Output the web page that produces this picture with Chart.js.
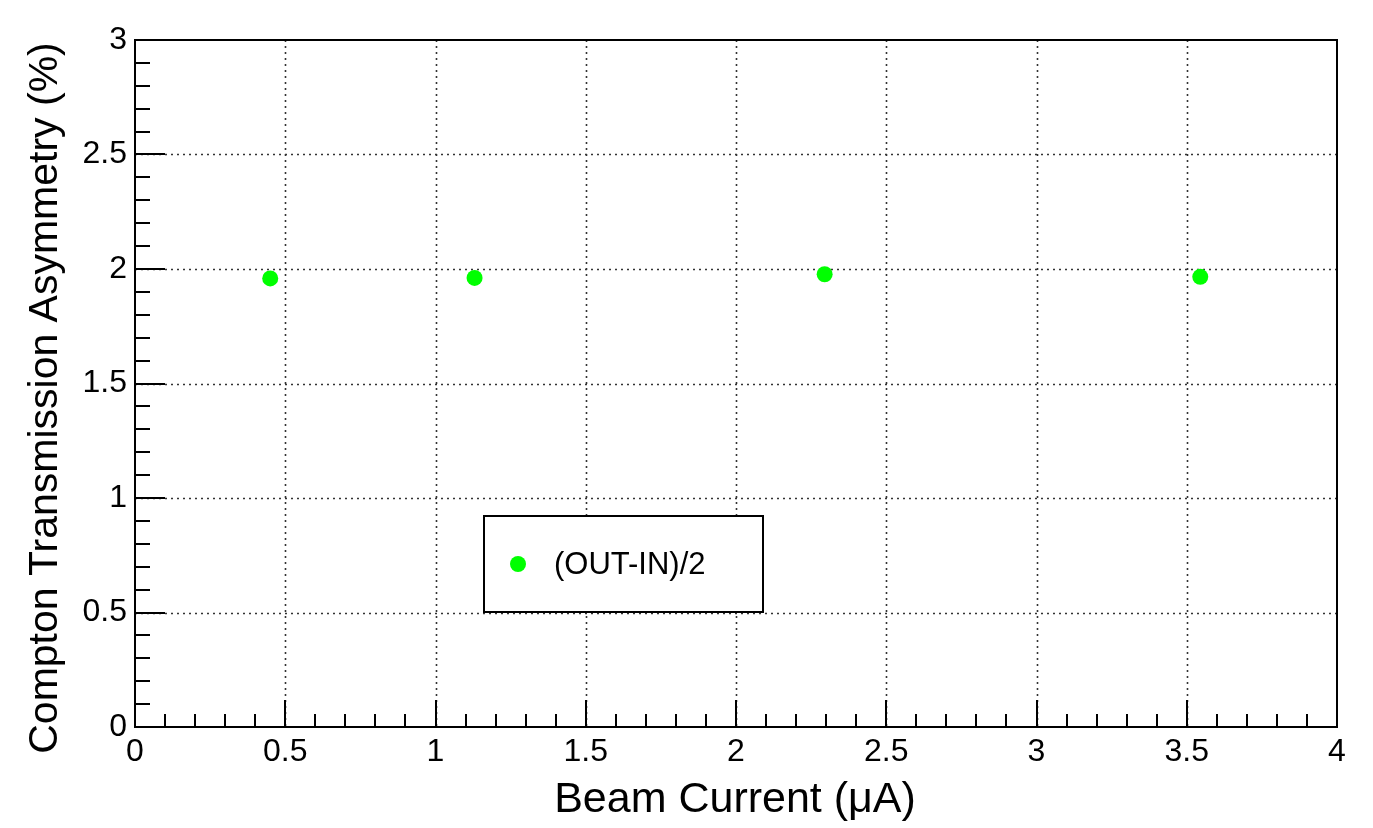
<!DOCTYPE html>
<html>
<head>
<meta charset="utf-8">
<script src="https://cdn.jsdelivr.net/npm/chart.js@4/dist/chart.umd.min.js"></script>
<style>
  html, body { margin: 0; padding: 0; background: #fff; }
  #wrap { width: 1373px; height: 828px; }
</style>
</head>
<body>
<div id="wrap"><canvas id="comptonAsym"></canvas></div>
<script>
// beam current (uA) and asymmetry (%)
const beamCurrent = [0.45, 1.13, 2.295, 3.545];
const asymmetry = [1.959, 1.961, 1.977, 1.966];
const seriesLabel = '(OUT-IN)/2';
const xTitle = 'Beam Current (\u03bcA)';
const yTitle = 'Compton Transmission Asymmetry (%)';

const FONT = "'Liberation Sans', Arial, Helvetica, sans-serif";
const GREEN = '#00ff00';

// ROOT style frame: dotted grid at majors, inward major/minor ticks
const rootFrame = {
    id: 'rootFrame',
    beforeDatasetsDraw(chart) {
        const ctx = chart.ctx;
        const area = chart.chartArea;
        const xs = chart.scales.x;
        const ys = chart.scales.y;
        ctx.save();

        // grid
        ctx.strokeStyle = '#333';
        ctx.lineWidth = 1.6;
        ctx.setLineDash([2, 4]);
        for (let v = 0.5; v < 4; v += 0.5) {
            const px = Math.round(xs.getPixelForValue(v)) + 0.5;
            ctx.beginPath();
            ctx.moveTo(px, area.top);
            ctx.lineTo(px, area.bottom);
            ctx.stroke();
        }
        for (let v = 0.5; v < 3; v += 0.5) {
            const py = Math.round(ys.getPixelForValue(v)) + 0.5;
            ctx.beginPath();
            ctx.moveTo(area.left, py);
            ctx.lineTo(area.right, py);
            ctx.stroke();
        }
        ctx.setLineDash([]);

        // ticks
        ctx.strokeStyle = '#000';
        ctx.lineWidth = 2;
        for (let i = 1; i < 40; i++) {
            const px = Math.round(xs.getPixelForValue(i / 10));
            const len = i % 5 === 0 ? 27 : 13;
            ctx.beginPath();
            ctx.moveTo(px, area.bottom);
            ctx.lineTo(px, area.bottom - len);
            ctx.stroke();
        }
        for (let i = 1; i < 30; i++) {
            const py = Math.round(ys.getPixelForValue(i / 10));
            const len = i % 5 === 0 ? 30 : 15;
            ctx.beginPath();
            ctx.moveTo(area.left, py);
            ctx.lineTo(area.left + len, py);
            ctx.stroke();
        }

        // frame
        ctx.strokeRect(area.left, area.top, area.right - area.left, area.bottom - area.top);
        ctx.restore();
    },
    afterDraw(chart) {
        const ctx = chart.ctx;
        const ds = chart.data.datasets[0];
        ctx.save();

        // axis titles
        ctx.fillStyle = '#000';
        ctx.textAlign = 'center';
        ctx.textBaseline = 'middle';
        ctx.font = '43px ' + FONT;
        ctx.fillText(xTitle, 735, 800);
        ctx.font = '41px ' + FONT;
        ctx.translate(46, 398);
        ctx.rotate(-Math.PI / 2);
        ctx.fillText(yTitle, 0, 0);
        ctx.restore();

        // legend box
        ctx.save();
        ctx.strokeStyle = '#000';
        ctx.lineWidth = 2;
        ctx.fillStyle = '#fff';
        ctx.fillRect(484, 516, 279, 96);
        ctx.strokeRect(484, 516, 279, 96);
        ctx.fillStyle = ds.backgroundColor;
        ctx.beginPath();
        ctx.arc(518, 564, 8, 0, Math.PI * 2);
        ctx.fill();
        ctx.fillStyle = '#000';
        ctx.font = '31px ' + FONT;
        ctx.textAlign = 'left';
        ctx.textBaseline = 'middle';
        ctx.fillText(ds.label, 554, 565);
        ctx.restore();
    }
};

const fmt = v => String(+Number(v).toFixed(1));

new Chart(document.getElementById('comptonAsym'), {
    type: 'scatter',
    data: {
        datasets: [{
            label: seriesLabel,
            data: beamCurrent.map((x, i) => ({ x: x, y: asymmetry[i] })),
            backgroundColor: GREEN,
            borderColor: GREEN,
            pointRadius: 8,
            pointBorderWidth: 0
        }]
    },
    options: {
        responsive: true,
        maintainAspectRatio: false,
        animation: false,
        layout: { padding: { top: 40, right: 36, left: 0, bottom: 0 } },
        plugins: {
            legend: { display: false },
            tooltip: { enabled: false }
        },
        scales: {
            x: {
                type: 'linear',
                min: 0,
                max: 4,
                grid: { display: false, drawTicks: false },
                border: { display: false },
                ticks: {
                    stepSize: 0.5,
                    padding: 6,
                    color: '#000',
                    maxRotation: 0,
                    font: { family: FONT, size: 32 },
                    callback: fmt
                },
                afterFit(scale) { scale.height = 101; }
            },
            y: {
                type: 'linear',
                min: 0,
                max: 3,
                grid: { display: false, drawTicks: false },
                border: { display: false },
                ticks: {
                    stepSize: 0.5,
                    padding: 8,
                    color: '#000',
                    font: { family: FONT, size: 32 },
                    callback: fmt
                },
                afterFit(scale) { scale.width = 135; }
            }
        }
    },
    plugins: [rootFrame]
});
</script>
</body>
</html>
